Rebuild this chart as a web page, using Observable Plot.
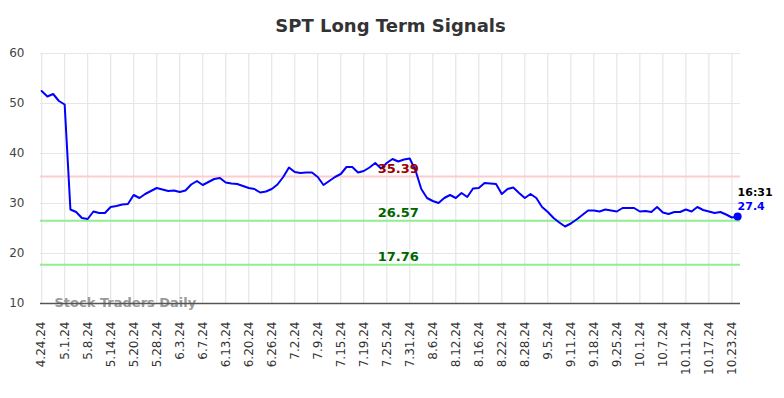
<!DOCTYPE html>
<html>
<head>
<meta charset="utf-8">
<script src="https://cdn.jsdelivr.net/npm/d3@7"></script>
<script src="https://cdn.jsdelivr.net/npm/@observablehq/plot@0.6"></script>
<style>
  html, body { margin: 0; padding: 0; background: #fff; }
  #chart svg { display: block; }
</style>
</head>
<body>
<div id="chart"></div>
<script>
const title = "SPT Long Term Signals";
const watermark = "Stock Traders Daily";
const tickLabels = ["4.24.24","5.1.24","5.8.24","5.14.24","5.20.24","5.28.24","6.3.24","6.7.24","6.13.24","6.20.24","6.26.24","7.2.24","7.9.24","7.15.24","7.19.24","7.25.24","7.31.24","8.6.24","8.12.24","8.16.24","8.22.24","8.28.24","9.5.24","9.11.24","9.18.24","9.25.24","10.1.24","10.7.24","10.11.24","10.17.24","10.23.24"];
const values = [
  52.5, 51.4, 51.9, 50.5, 49.8, 28.8, 28.3, 27.1, 26.9, 28.4,
  28.1, 28.1, 29.3, 29.5, 29.8, 29.9, 31.7, 31.1, 31.9, 32.5,
  33.1, 32.8, 32.5, 32.6, 32.3, 32.6, 33.8, 34.5, 33.7, 34.3,
  34.9, 35.1, 34.2, 34.0, 33.9, 33.5, 33.1, 32.9, 32.2, 32.4,
  32.9, 33.8, 35.3, 37.2, 36.3, 36.1, 36.2, 36.2, 35.3, 33.7,
  34.5, 35.3, 35.9, 37.3, 37.3, 36.2, 36.5, 37.2, 38.1, 37.0,
  38.1, 38.9, 38.4, 38.8, 39.0, 36.6, 32.9, 31.1, 30.5, 30.1,
  31.1, 31.7, 31.1, 32.1, 31.3, 33.0, 33.1, 34.1, 34.0, 33.9,
  31.9, 32.9, 33.2, 32.1, 31.1, 31.9, 31.1, 29.3, 28.3, 27.1,
  26.2, 25.4, 26.0, 26.8, 27.7, 28.6, 28.6, 28.4, 28.8, 28.6,
  28.4, 29.1, 29.1, 29.1, 28.4, 28.5, 28.3, 29.3, 28.2, 27.9,
  28.3, 28.3, 28.8, 28.4, 29.3, 28.7, 28.4, 28.1, 28.3, 27.8,
  27.2, 27.4
];
const resistance = 35.39;
const supports = [26.57, 17.76];
const lastTime = "16:31";
const yTicks = [10, 20, 30, 40, 50, 60];

const data = values.map((v, i) => ({i, v}));
const last = data[data.length - 1];
const xTicks = tickLabels.map((_, k) => k * 4);
const labelX = 62;

const chart = Plot.plot({
  width: 784,
  height: 398,
  marginTop: 53,
  marginBottom: 95,
  marginLeft: 40,
  marginRight: 44,
  style: {fontFamily: "DejaVu Sans", fontSize: "12px", background: "#fff"},
  x: {domain: [-0.2, 121.5], axis: null, label: null},
  y: {domain: [10, 60], axis: null, label: null},
  marks: [
    Plot.gridX(xTicks, {stroke: "#e6e6e6", strokeOpacity: 1, strokeWidth: 1.2}),
    Plot.gridY(yTicks, {stroke: "#e6e6e6", strokeOpacity: 1, strokeWidth: 1.2}),
    Plot.axisY(yTicks, {tickSize: 0, tickPadding: 16, fontSize: 12, fill: "#444", tickFormat: d => d, label: null}),
    Plot.axisX(xTicks, {tickSize: 0, tickPadding: 18, tickRotate: -90, fontSize: 12, fill: "#333", tickFormat: d => tickLabels[d / 4], label: null}),
    Plot.ruleY([resistance], {stroke: "#ffcccc", strokeWidth: 2}),
    Plot.ruleY(supports, {stroke: "#90ee90", strokeWidth: 2}),
    Plot.text([watermark], {frameAnchor: "bottom-left", text: d => d, dx: 14, dy: -1, lineAnchor: "middle", textAnchor: "start", fill: "#999", fontWeight: "bold", fontSize: 13}),
    Plot.ruleY([10], {stroke: "#555", strokeWidth: 1.3}),
    Plot.line(data, {x: "i", y: "v", stroke: "#0000ff", strokeWidth: 2}),
    Plot.text([resistance], {x: labelX, y: d => d, text: d => d.toFixed(2), dy: -8, fill: "#990000", fontWeight: "bold", fontSize: 13}),
    Plot.text(supports, {x: labelX, y: d => d, text: d => d.toFixed(2), dy: -8, fill: "#006400", fontWeight: "bold", fontSize: 13}),
    Plot.dot([last], {x: "i", y: "v", r: 4, fill: "#0000ff"}),
    Plot.text([last], {x: "i", y: "v", text: () => lastTime, dy: -24, textAnchor: "start", fill: "#000", fontWeight: "bold", fontSize: 11}),
    Plot.text([last], {x: "i", y: "v", text: d => String(d.v), dy: -10, textAnchor: "start", fill: "#0000ff", fontWeight: "bold", fontSize: 11}),
    Plot.text([title], {frameAnchor: "top", text: d => d, dy: -27, lineAnchor: "middle", fill: "#333", fontWeight: "bold", fontSize: 18})
  ]
});
document.getElementById("chart").appendChild(chart);
</script>
</body>
</html>
